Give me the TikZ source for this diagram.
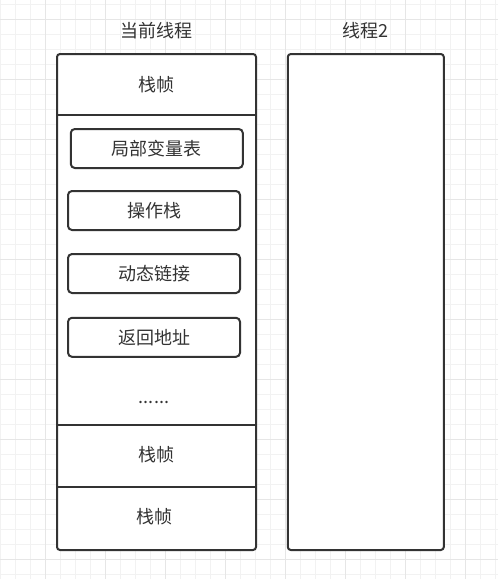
\documentclass[tikz,border=0pt]{standalone}
\usepackage{fontspec}
\setmainfont{Noto Sans CJK SC}
\definecolor{ink}{HTML}{333333}
\definecolor{gridminor}{HTML}{F2F2F2}
\definecolor{gridmajor}{HTML}{E6E6E6}
\tikzset{
  outerbox/.style={draw=ink, line width=2pt, fill=white, rounded corners=3pt, inner sep=0pt},
  itembox/.style={draw=ink, line width=2pt, fill=white, rounded corners=4pt, inner sep=0pt,
    text=ink, font=\fontsize{18}{21}\selectfont},
  lbl/.style={text=ink, font=\fontsize{18}{21}\selectfont, inner sep=0pt},
  divider/.style={draw=ink, line width=2pt},
}
\begin{document}
\begin{tikzpicture}[x=1pt,y=-1pt]
\useasboundingbox (0,0) rectangle (498,579);
\fill[white] (0,0) rectangle (498,579);
% grid
\foreach \i in {0,...,33} {
  \draw[gridminor, line width=1pt] ({0.7+15*\i},0) -- ({0.7+15*\i},579);
}
\foreach \j in {0,...,38} {
  \draw[gridminor, line width=1pt] (0,{4+15*\j}) -- (498,{4+15*\j});
}
\foreach \i in {0,...,7} {
  \draw[gridmajor, line width=1pt] ({45.7+60*\i},0) -- ({45.7+60*\i},579);
}
\foreach \j in {0,...,9} {
  \draw[gridmajor, line width=1pt] (0,{19+60*\j}) -- (498,{19+60*\j});
}
% titles
\node[lbl] (t1) at (156.5,31) {当前线程};
\node[lbl] (t2) at (365.5,31) {线程2};
% boxes
\node[outerbox, minimum width=199pt, minimum height=496pt] (cur) at (156.5,302) {};
\node[outerbox, minimum width=156pt, minimum height=496pt] (th2) at (365.8,302) {};
% dividers
\coordinate (d1) at (0,115);
\coordinate (d2) at (0,425);
\coordinate (d3) at (0,487);
\draw[divider] (cur.west |- d1) -- (cur.east |- d1);
\draw[divider] (cur.west |- d2) -- (cur.east |- d2);
\draw[divider] (cur.west |- d3) -- (cur.east |- d3);
% frame labels
\node[lbl] (f1) at (156.5,85) {栈帧};
\node[lbl] (f2) at (156.5,455) {栈帧};
\node[lbl] (f3) at (154.5,517) {栈帧};
% items
\node[itembox, minimum width=172pt, minimum height=39pt] (lv) at (156.8,148.5) {局部变量表};
\node[itembox, minimum width=172pt, minimum height=39pt] (os) at (154,210.5) {操作栈};
\node[itembox, minimum width=172pt, minimum height=39pt] (dl) at (154,273.5) {动态链接};
\node[itembox, minimum width=172pt, minimum height=39pt] (ra) at (154,337.3) {返回地址};
\node[lbl] (dots) at (154,402) {......};
\end{tikzpicture}
\end{document}
